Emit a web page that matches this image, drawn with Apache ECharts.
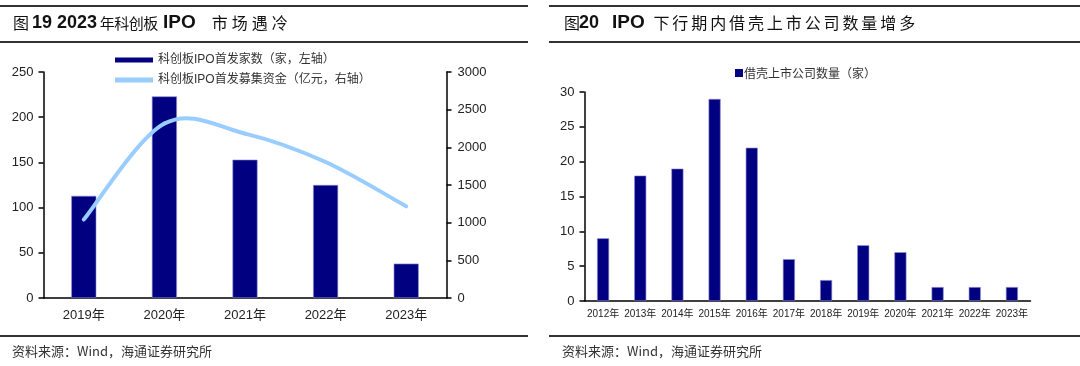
<!DOCTYPE html>
<html>
<head>
<meta charset="utf-8">
<script src="https://cdn.jsdelivr.net/npm/echarts@6/dist/echarts.min.js"></script>
<style>
html,body{margin:0;padding:0;background:#fff;}
#c{width:1080px;height:366px;}
</style>
</head>
<body>
<div id="c"></div>
<script>
// Left chart data
const leftYears = ['2019年', '2020年', '2021年', '2022年', '2023年'];
const ipoCount = [113, 223, 153, 125, 38];
const ipoFunds = [1041, 2315, 2182, 1805, 1217];
const leftNameBar = '科创板IPO首发家数（家，左轴）';
const leftNameLine = '科创板IPO首发募集资金（亿元，右轴）';

// Right chart data
const rightYears = ['2012年','2013年','2014年','2015年','2016年','2017年','2018年','2019年','2020年','2021年','2022年','2023年'];
const backdoorCount = [9, 18, 19, 29, 22, 6, 3, 8, 7, 2, 2, 2];
const rightName = '借壳上市公司数量（家）';

const leftTicksRight = [0, 500, 1000, 1500, 2000, 2500, 3000];

const NAVY = '#000080';
const LIGHT = '#99CCFF';
const TXT = '#222';
const FONT = '"Liberation Sans", Arial, "Noto Sans CJK SC", sans-serif';
const CJK = '"Noto Sans CJK SC", sans-serif';

const chart = echarts.init(document.getElementById('c'), null, {renderer: 'canvas'});

function hline(x1, x2, y) {
  return {type: 'line', shape: {x1: x1, y1: y, x2: x2, y2: y}, style: {stroke: '#333', lineWidth: 2}, silent: true};
}
function spaced(str, key) {
  return str.split('').map(c => '{' + key + '|' + c + '}').join('');
}

const axisLbl = {color: TXT, fontSize: 13, fontFamily: FONT};

// Catmull-Rom style smoothed curve drawn through the axis scales
function renderSmooth(params, api) {
  if (params.dataIndex !== 0) return null;
  const pts = [];
  for (let i = 0; i < ipoFunds.length; i++) {
    pts.push(api.coord([i, ipoFunds[i]]));
  }
  const children = [];
  for (let i = 0; i < pts.length - 1; i++) {
    const p0 = pts[Math.max(i - 1, 0)];
    const p1 = pts[i];
    const p2 = pts[i + 1];
    const p3 = pts[Math.min(i + 2, pts.length - 1)];
    children.push({
      type: 'bezierCurve',
      shape: {
        x1: p1[0], y1: p1[1], x2: p2[0], y2: p2[1],
        cpx1: p1[0] + (p2[0] - p0[0]) / 6, cpy1: p1[1] + (p2[1] - p0[1]) / 6,
        cpx2: p2[0] - (p3[0] - p1[0]) / 6, cpy2: p2[1] - (p3[1] - p1[1]) / 6
      },
      style: {stroke: LIGHT, lineWidth: 4, fill: null, lineCap: 'round'}
    });
  }
  return {type: 'group', children: children};
}

const K = '#111';
chart.setOption({
  animation: false,
  backgroundColor: '#fff',
  graphic: [
    hline(0, 528, 6), hline(0, 528, 42), hline(0, 528, 336),
    hline(549, 1080, 6), hline(549, 1080, 42), hline(549, 1080, 336),
    {type: 'text', x: 13, y: 23, style: {
      text: '{t|图}{b1|19 2023}' + spaced('年科创板', 'a') + '{sp| }{b2|IPO}{sp2| }' + spaced('市场遇冷', 'c'),
      verticalAlign: 'middle', align: 'left',
      rich: {
        t: {fontSize: 16, fontFamily: CJK, fill: K, width: 19},
        b1: {fontSize: 18, fontWeight: 'bold', fontFamily: FONT, fill: K, width: 68},
        a: {fontSize: 15, fontFamily: CJK, fill: K, width: 14.5, align: 'center'},
        sp: {fontSize: 10, fontFamily: FONT, width: 5},
        b2: {fontSize: 19, fontWeight: 'bold', fontFamily: FONT, fill: K},
        sp2: {fontSize: 10, fontFamily: FONT, width: 14},
        c: {fontSize: 16, fontFamily: CJK, fill: K, width: 20, align: 'center'}
      }
    }},
    {type: 'text', x: 564, y: 23, style: {
      text: '{t|图}{b1|20}{b2|IPO}' + spaced('下行期内借壳上市公司数量增多', 'c'),
      verticalAlign: 'middle', align: 'left',
      rich: {
        t: {fontSize: 16, fontFamily: CJK, fill: K, width: 15},
        b1: {fontSize: 18, fontWeight: 'bold', fontFamily: FONT, fill: K, width: 33},
        b2: {fontSize: 19, fontWeight: 'bold', fontFamily: FONT, fill: K, width: 40},
        c: {fontSize: 16, fontFamily: CJK, fill: K, width: 18.9, align: 'center'}
      }
    }},
    {type: 'text', left: 12, top: 345, style: {text: '资料来源：Wind，海通证券研究所', fontSize: 13, fontFamily: CJK, fill: '#333'}},
    {type: 'text', left: 562, top: 345, style: {text: '资料来源：Wind，海通证券研究所', fontSize: 13, fontFamily: CJK, fill: '#333'}}
  ],
  legend: [
    {
      data: [leftNameBar, leftNameLine],
      orient: 'vertical', left: 110, top: 49,
      icon: 'rect', itemWidth: 38, itemHeight: 5, itemGap: 8,
      itemStyle: {borderWidth: 0},
      textStyle: {fontSize: 12, color: '#333', fontFamily: FONT}
    },
    {
      data: [rightName],
      left: 730, top: 62,
      icon: 'rect', itemWidth: 8, itemHeight: 8, itemGap: 2,
      itemStyle: {borderWidth: 0},
      textStyle: {fontSize: 12, color: '#333', fontFamily: CJK, padding: [0, 0, 0, -4]}
    }
  ],
  grid: [
    {left: 43.5, top: 72, width: 403, height: 226},
    {left: 584.5, top: 92, width: 446, height: 209}
  ],
  xAxis: [
    {type: 'category', gridIndex: 0, data: leftYears,
      axisLine: {lineStyle: {color: '#000', width: 1.5}},
      axisTick: {length: 5, lineStyle: {color: '#000', width: 1.5}},
      axisLabel: Object.assign({}, axisLbl, {margin: 11})},
    {type: 'category', gridIndex: 1, data: rightYears,
      axisLine: {lineStyle: {color: '#000', width: 1.5}},
      axisTick: {length: 5, lineStyle: {color: '#000', width: 1.5}},
      axisLabel: Object.assign({}, axisLbl, {fontSize: 10, margin: 8, interval: 0})}
  ],
  yAxis: [
    {type: 'value', gridIndex: 0, min: 0, max: 250, interval: 50,
      axisLine: {show: true, lineStyle: {color: '#000', width: 1.5}},
      axisTick: {show: true, length: 5, lineStyle: {color: '#000', width: 1.5}},
      splitLine: {show: false},
      axisLabel: Object.assign({}, axisLbl, {margin: 10})},
    {type: 'value', gridIndex: 0, position: 'right',
      min: leftTicksRight[0], max: leftTicksRight[leftTicksRight.length - 1], interval: 500,
      axisLine: {show: true, lineStyle: {color: '#000', width: 1.5}},
      axisTick: {show: true, length: 5, lineStyle: {color: '#000', width: 1.5}},
      splitLine: {show: false},
      axisLabel: Object.assign({}, axisLbl, {margin: 11, formatter: v => String(v)})},
    {type: 'value', gridIndex: 1, min: 0, max: 30, interval: 5,
      axisLine: {show: true, lineStyle: {color: '#000', width: 1.5}},
      axisTick: {show: true, length: 5, lineStyle: {color: '#000', width: 1.5}},
      splitLine: {show: false},
      axisLabel: Object.assign({}, axisLbl, {margin: 10})}
  ],
  series: [
    {name: leftNameBar, type: 'bar', xAxisIndex: 0, yAxisIndex: 0, data: ipoCount,
      barWidth: 25, itemStyle: {color: NAVY, borderColor: '#8a8ad0', borderWidth: 0.6}},
    {name: leftNameLine, type: 'custom', xAxisIndex: 0, yAxisIndex: 1,
      data: ipoFunds.map((v, i) => [i, v]),
      encode: {x: 0, y: 1},
      itemStyle: {color: LIGHT},
      renderItem: renderSmooth, z: 3},
    {name: rightName, type: 'bar', xAxisIndex: 1, yAxisIndex: 2, data: backdoorCount,
      barWidth: 12, itemStyle: {color: NAVY, borderColor: '#8a8ad0', borderWidth: 0.6}}
  ]
});
</script>
</body>
</html>
